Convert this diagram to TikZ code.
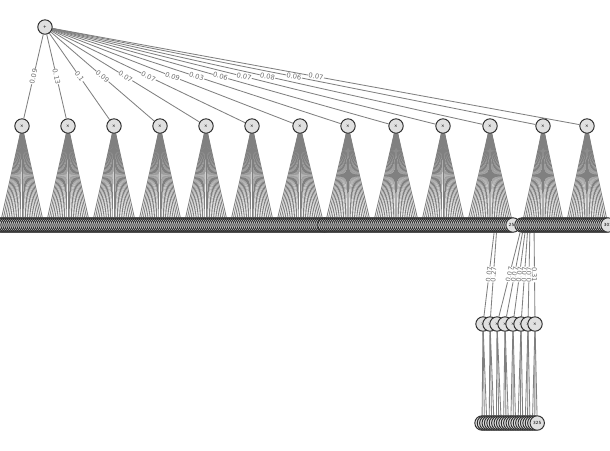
\documentclass[tikz,border=0pt]{standalone}
\usepackage{fontspec}
\setsansfont{DejaVu Sans}
\usepackage{tikz}
\usetikzlibrary{backgrounds}
\definecolor{nodefill}{HTML}{E0E0E0}
\definecolor{nodeline}{HTML}{303030}
\definecolor{edgegray}{HTML}{808080}
\definecolor{weightgray}{HTML}{6E6E6E}
\tikzset{vertex/.style={circle, draw=nodeline, fill=nodefill, line width=.7pt, inner sep=0pt, minimum size=.36cm, font=\sffamily\fontsize{3}{3}\selectfont}}
\tikzset{wire/.style={draw=edgegray, line width=.6pt}}
\tikzset{weight/.style={sloped, midway, fill=white, inner sep=.3pt, text=weightgray, font=\sffamily\fontsize{4.8}{5}\selectfont}}

\begin{document}
\begin{tikzpicture}[x=.025cm,y=-.025cm]
  \useasboundingbox (0,0) rectangle (610,450);
  \clip (0,0) rectangle (610,450);

  \node[vertex] (r) at (45,27) {+};

  \foreach \lab/\x in {
    1/22, 2/68, 3/114, 4/160, 5/206, 6/252, 7/300,
    8/348, 9/396, 10/443, 11/490, 12/543, 13/587%
  } {
    \node[vertex] (p\lab) at (\x,126) {×};
  }

  % leaves under the product nodes: group/centre/count/first index
  \foreach \g/\x/\m/\s in {
    1/22/23/0, 2/68/23/23, 3/114/23/46, 4/160/23/69, 5/206/23/92,
    6/252/23/115, 7/300/25/138, 8/348/24/163, 9/396/24/187,
    10/443/23/211, 11/490/24/234, 12/543/22/258, 13/587/22/280%
  } {
    \foreach \k in {1,...,\m} {
      \pgfmathtruncatemacro{\n}{\s+\k-1}
      \node[vertex] (l\g-\k) at (\x-\m-1+2*\k,225) {\n};
    }
  }

  \foreach \lab/\x in {
    1/483, 2/490, 3/497, 4/505, 5/513, 6/521, 7/528, 8/535%
  } {
    \node[vertex] (m\lab) at (\x,324) {×};
  }

  \foreach \k in {0,...,23} {
    \pgfmathtruncatemacro{\n}{302+\k}
    \node[vertex] (b\k) at (482+2.4*\k,423) {\n};
  }

  \begin{scope}[on background layer]
    \foreach \v in {1,...,13} {
      \draw[wire] (r) -- (p\v);
    }
    \foreach \g/\m in {
      1/23, 2/23, 3/23, 4/23, 5/23, 6/23, 7/25,
      8/24, 9/24, 10/23, 11/24, 12/22, 13/22%
    } {
      \foreach \k in {1,...,\m} {
        \draw[wire] (p\g) -- (l\g-\k);
      }
    }
    \foreach \u/\v in {
      11-15/1, 11-16/2, 12-1/3, 12-2/4,
      12-3/5, 12-4/6, 12-5/7, 12-7/8%
    }{
      \draw[wire] (l\u) -- (m\v);
    }
    \foreach \u in {1,...,8} {
      \foreach \k in {0,1,2} {
        \pgfmathtruncatemacro{\j}{3*(\u-1)+\k}
        \draw[wire] (m\u) -- (b\j);
      }
    }
  \end{scope}

  % weights
  \foreach \v/\w in {
    1/0.09, 2/0.13, 3/0.1, 4/0.09, 5/0.07, 6/0.07, 7/0.09,
    8/0.03, 9/0.06, 10/0.07, 11/0.08, 12/0.06, 13/0.07%
  }{
    \path (r) -- (p\v) node[weight] {\w};
  }
  \foreach \u/\v/\w in {
    11-15/1/0.07, 11-16/2/0.27, 12-1/3/0.07, 12-2/4/0.07,
    12-3/5/0.07, 12-4/6/0.07, 12-5/7/0.07, 12-7/8/0.31%
  }{
    \path (l\u) -- (m\v) node[weight] {\w};
  }

\end{tikzpicture}
\end{document}
